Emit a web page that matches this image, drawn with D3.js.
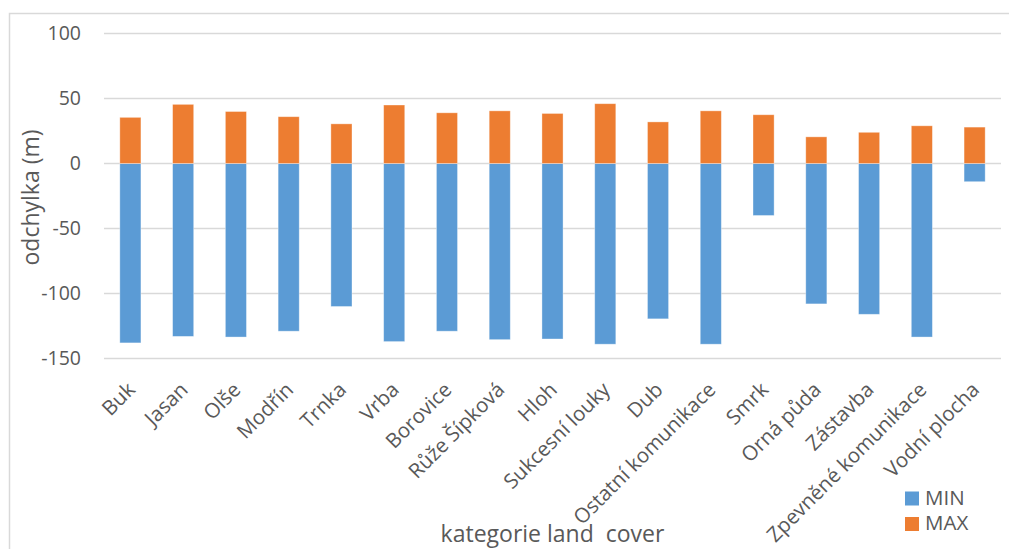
<!DOCTYPE html>
<html>
<head>
<meta charset="utf-8">
<script src="https://cdn.jsdelivr.net/npm/d3@7"></script>
<style>
  html, body { margin: 0; padding: 0; background: #fff; }
  svg { display: block; font-family: "Open Sans", "DejaVu Sans", sans-serif; }
</style>
</head>
<body>
<svg id="chart" width="1009" height="549"></svg>
<script>
// Land cover categories and elevation deviation range (m)
const categories = ["Buk", "Jasan", "Olše", "Modřín", "Trnka", "Vrba", "Borovice",
  "Růže Šípková", "Hloh", "Sukcesní louky", "Dub", "Ostatní komunikace", "Smrk",
  "Orná půda", "Zástavba", "Zpevněné komunikace", "Vodní plocha"];
const minValues = [-138, -133, -133.5, -129, -110, -137, -129, -135.5, -135, -139,
  -119.5, -139, -40, -108, -116, -133.5, -14];
const maxValues = [35.5, 45.5, 40, 36, 30.5, 45, 39, 40.5, 38.5, 46, 32, 40.5, 37.5,
  20.5, 24, 29, 28];
const yTicks = [-150, -100, -50, 0, 50, 100];
const seriesNames = ["MIN", "MAX"];
const seriesColors = ["#5B9BD5", "#ED7D31"];

const svg = d3.select("#chart");
const textColor = "#595959";
const gridColor = "#d9d9d9";

// chart area frame
svg.append("rect")
  .attr("x", 9.5).attr("y", 13.5)
  .attr("width", 1010).attr("height", 560)
  .attr("fill", "#fff")
  .attr("stroke", gridColor).attr("stroke-width", 1.5);

const plot = { left: 104, right: 1001, top: 33.5, bottom: 358.5 };

const x = d3.scaleBand()
  .domain(categories)
  .range([plot.left, plot.right])
  .paddingInner(0.6)
  .paddingOuter(0.3);

const y = d3.scaleLinear()
  .domain([-150, 100])
  .range([plot.bottom, plot.top]);

// horizontal gridlines
svg.append("g")
  .selectAll("line")
  .data(yTicks)
  .join("line")
  .attr("x1", plot.left).attr("x2", plot.right)
  .attr("y1", d => y(d)).attr("y2", d => y(d))
  .attr("stroke", gridColor).attr("stroke-width", 1.5);

// y axis tick labels (plain hyphen-minus)
const yAxis = d3.axisLeft(y)
  .tickValues(yTicks)
  .tickFormat(d => String(d))
  .tickSize(0)
  .tickPadding(0);
const yg = svg.append("g")
  .attr("transform", "translate(81,0)")
  .call(yAxis);
yg.select(".domain").remove();
yg.selectAll("text")
  .attr("fill", textColor)
  .style("font-size", "19.5px")
  .style("font-family", "'Open Sans', sans-serif");

// bars: MIN below zero, MAX above zero
const bars = svg.append("g");
const series = [minValues, maxValues];
series.forEach((vals, si) => {
  bars.append("g")
    .selectAll("rect")
    .data(vals.map((v, i) => ({ cat: categories[i], v })))
    .join("rect")
    .attr("x", d => x(d.cat))
    .attr("width", x.bandwidth())
    .attr("y", d => y(Math.max(0, d.v)))
    .attr("height", d => Math.abs(y(d.v) - y(0)))
    .attr("fill", seriesColors[si])
    .attr("stroke", "#fff")
    .attr("stroke-opacity", 0.45)
    .attr("stroke-width", 0.8);
});

// category labels, rotated
const xg = svg.append("g");
xg.selectAll("text")
  .data(categories)
  .join("text")
  .attr("transform", d => `translate(${x(d) + x.bandwidth() / 2 + 6},${391}) rotate(-45)`)
  .attr("text-anchor", "end")
  .attr("fill", textColor)
  .style("font-size", "20.5px")
  .text(d => d);

// axis titles
svg.append("text")
  .attr("transform", "translate(39,197.5) rotate(-90)")
  .attr("text-anchor", "middle")
  .attr("fill", textColor)
  .style("font-size", "23px")
  .text("odchylka (m)");

svg.append("text")
  .attr("x", 552.5).attr("y", 542)
  .attr("text-anchor", "middle")
  .attr("fill", textColor)
  .style("font-size", "23px")
  .style("white-space", "pre")
  .text("kategorie land  cover");

// legend
const legend = svg.append("g").attr("transform", "translate(905,491.5)");
seriesNames.forEach((name, i) => {
  const row = legend.append("g").attr("transform", `translate(0,${i * 25.5})`);
  row.append("rect")
    .attr("width", 14).attr("height", 14)
    .attr("fill", seriesColors[i]);
  row.append("text")
    .attr("x", 20).attr("y", 13)
    .attr("fill", textColor)
    .style("font-size", "20.5px")
    .text(name);
});
</script>
</body>
</html>
